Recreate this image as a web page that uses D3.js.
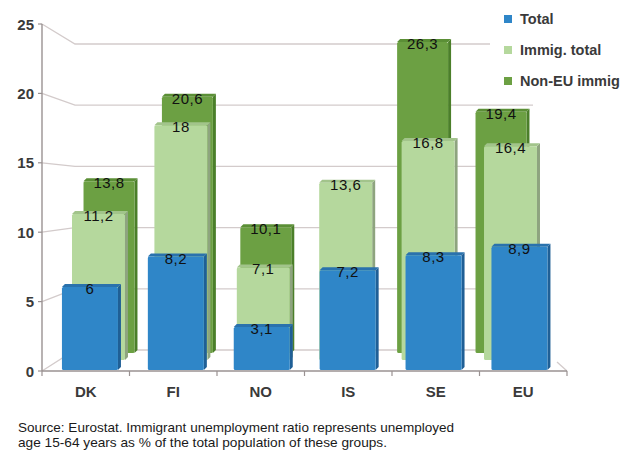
<!DOCTYPE html>
<html>
<head>
<meta charset="utf-8">
<script src="https://cdn.jsdelivr.net/npm/d3@7"></script>
<style>
  body { margin: 0; background: #fff; }
  svg { display: block; font-family: "Liberation Sans", Arial, sans-serif; }
</style>
</head>
<body>
<svg id="chart" width="624" height="457"></svg>
<script>
// Unemployment ratio (%) by country group
const categories = ["DK", "FI", "NO", "IS", "SE", "EU"];
const totalRate  = [6, 8.2, 3.1, 7.2, 8.3, 8.9];
const immigRate  = [11.2, 18, 7.1, 13.6, 16.8, 16.4];
const nonEuRate  = [13.8, 20.6, 10.1, null, 26.3, 19.4];
const seriesNames = ["Total", "Immig. total", "Non-EU immig"];
const yTicks = [0, 5, 10, 15, 20, 25];
const sourceLines = [
  "Source: Eurostat. Immigrant unemployment ratio represents unemployed",
  "age 15-64 years as % of the total population of these groups."
];

const svg = d3.select("#chart");
const yMax = 25;

// Front face of the box (axis) and the back wall
const yFront = d3.scaleLinear([0, yMax], [371, 24]);
const yWall  = d3.scaleLinear([0, yMax], [350, 44]);
const axisX = 42, wallX0 = 75, wallX1 = 533;
const xAxisBand = d3.scaleBand(categories, [42, 567]);

const gridColor = "#d3cbcb";
const axisColor = "#9a9292";

// Back wall gridlines and their diagonal connectors to the axis
const grid = svg.append("g");
yTicks.forEach(v => {
  grid.append("path")
    .attr("d", d3.line()([[axisX, yFront(v)], [wallX0, yWall(v)], [wallX1, yWall(v)]]))
    .attr("fill", "none").attr("stroke", gridColor).attr("stroke-width", 1.3);
});

// Floor edge on the right
grid.append("line").attr("x1", xAxisBand.range()[1]).attr("y1", yFront(0))
  .attr("x2", xAxisBand.range()[1] - 10).attr("y2", yFront(0) - 9)
  .attr("stroke", gridColor).attr("stroke-width", 1.3);

// Legend background masks the wall behind it
svg.append("rect").attr("x", 490).attr("y", 0).attr("width", 134).attr("height", 95).attr("fill", "#fff");

// Three depth layers, back to front
const layers = [
  { name: seriesNames[2], values: nonEuRate, range: [69.8, 540.2], pad: 0.35, y: [353, 42],
    face: "#6ca043", side: "#4b7f2a", top: "#5b8f36" },
  { name: seriesNames[1], values: immigRate, range: [57.3, 551.7], pad: 0.357, y: [360, 34],
    face: "#b5d89d", side: "#8ea47f", top: "#a2c48b" },
  { name: seriesNames[0], values: totalRate, range: [47, 562.4], pad: 0.348, y: [370, 24],
    face: "#2f86c8", side: "#1f5f96", top: "#2a72ad" }
];

const dx = 3, dy = 3;
const fmt = v => String(v).replace(".", ",");
const line = d3.line();

layers.forEach(layer => {
  const xb = d3.scaleBand(categories, layer.range)
    .paddingInner(layer.pad).paddingOuter(layer.pad / 2);
  const y = d3.scaleLinear([0, yMax], layer.y).clamp(true);
  const w = xb.bandwidth();
  const data = categories.map((c, i) => ({ c, v: layer.values[i] })).filter(d => d.v != null);
  const g = svg.append("g");

  const bar = g.selectAll("g.bar").data(data).join("g").attr("class", "bar");
  bar.append("path")
    .attr("d", d => {
      const x0 = xb(d.c), t = y(d.v), b = y(0);
      return line([[x0 + w, t], [x0 + w + dx, t - dy], [x0 + w + dx, b - dy], [x0 + w, b]]) + "Z";
    })
    .attr("fill", layer.side);
  bar.append("path")
    .attr("d", d => {
      const x0 = xb(d.c), t = y(d.v);
      return line([[x0, t], [x0 + dx, t - dy], [x0 + w + dx, t - dy], [x0 + w, t]]) + "Z";
    })
    .attr("fill", layer.top);
  bar.append("rect")
    .attr("x", d => xb(d.c)).attr("y", d => y(d.v))
    .attr("width", w).attr("height", d => y(0) - y(d.v))
    .attr("rx", 1.5)
    .attr("fill", layer.face);

  g.selectAll("text.val").data(data).join("text").attr("class", "val")
    .attr("x", d => xb(d.c) + w / 2)
    .attr("y", d => y(d.v) + 7)
    .attr("text-anchor", "middle")
    .attr("font-size", 15)
    .attr("letter-spacing", 0.5)
    .attr("fill", "#111")
    .text(d => fmt(d.v));
});

// Front axes
const axis = svg.append("g");
axis.append("line").attr("x1", axisX).attr("x2", axisX)
  .attr("y1", yFront(yMax)).attr("y2", yFront(0))
  .attr("stroke", axisColor).attr("stroke-width", 1.4);
axis.append("line").attr("x1", xAxisBand.range()[0]).attr("x2", xAxisBand.range()[1])
  .attr("y1", yFront(0)).attr("y2", yFront(0))
  .attr("stroke", axisColor).attr("stroke-width", 1.4);

yTicks.forEach(v => {
  axis.append("line").attr("x1", axisX - 4).attr("x2", axisX)
    .attr("y1", yFront(v)).attr("y2", yFront(v))
    .attr("stroke", axisColor).attr("stroke-width", 1.2);
  axis.append("text").attr("x", 34).attr("y", yFront(v) + 5.5)
    .attr("text-anchor", "end").attr("font-size", 15).attr("font-weight", "bold")
    .attr("fill", "#3a3a3a").text(v);
});

const bounds = categories.map(c => xAxisBand(c)).concat([xAxisBand.range()[1]]);
bounds.forEach(x => {
  axis.append("line").attr("x1", x).attr("x2", x)
    .attr("y1", yFront(0)).attr("y2", yFront(0) + 5)
    .attr("stroke", axisColor).attr("stroke-width", 1.2);
});

axis.selectAll("text.cat").data(categories).join("text").attr("class", "cat")
  .attr("x", c => xAxisBand(c) + xAxisBand.bandwidth() / 2)
  .attr("y", 397)
  .attr("text-anchor", "middle").attr("font-size", 15).attr("font-weight", "bold")
  .attr("fill", "#3a3a3a").text(c => c);

// Legend
const legendColors = [layers[2].face, layers[1].face, layers[0].face];
const legend = svg.append("g");
seriesNames.forEach((name, i) => {
  const cy = 19 + i * 31;
  legend.append("rect").attr("x", 504).attr("y", cy - 4).attr("width", 8).attr("height", 8)
    .attr("fill", legendColors[i]);
  legend.append("text").attr("x", 520).attr("y", cy + 5)
    .attr("font-size", 14.5).attr("font-weight", "bold").attr("fill", "#3a3a3a").text(name);
});

// Source note
const widths = [436, 369];
sourceLines.forEach((t, i) => {
  svg.append("text").attr("x", 18).attr("y", 432 + i * 15)
    .attr("font-size", 13).attr("fill", "#1a1a1a")
    .attr("textLength", widths[i]).attr("lengthAdjust", "spacingAndGlyphs")
    .text(t);
});
</script>
</body>
</html>
